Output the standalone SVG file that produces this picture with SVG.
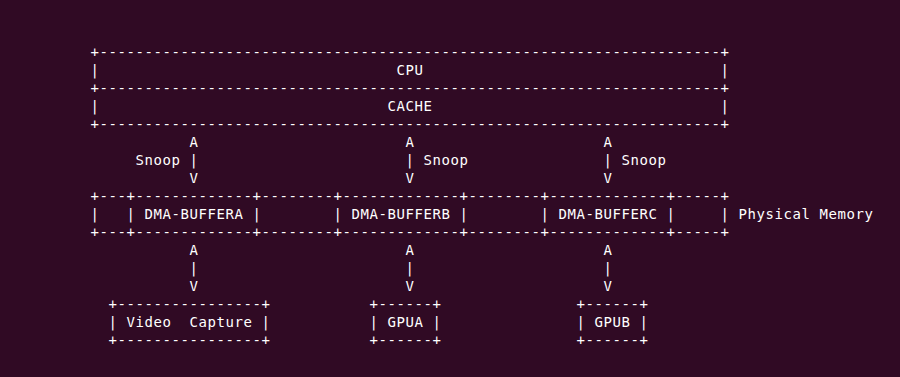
<svg xmlns="http://www.w3.org/2000/svg" width="900" height="377" viewBox="0 0 900 377">
<style>
text{font-family:"DejaVu Sans Mono","Liberation Mono",monospace;font-size:14px;letter-spacing:0.572px;fill:#ffffff;white-space:pre}
</style>
<rect width="900" height="377" fill="#300a24"/>
<g id="cpu">
<text x="90.5" y="57.3" xml:space="preserve">+---------------------------------------------------------------------+</text>
<text x="90.5" y="75.3">|</text>
<text x="396.5" y="75.3">CPU</text>
<text x="720.5" y="75.3">|</text>
<text x="90.5" y="93.3" xml:space="preserve">+---------------------------------------------------------------------+</text>
</g>
<g id="cache">
<text x="90.5" y="111.3">|</text>
<text x="387.5" y="111.3">CACHE</text>
<text x="720.5" y="111.3">|</text>
<text x="90.5" y="129.3" xml:space="preserve">+---------------------------------------------------------------------+</text>
</g>
<g id="connectors">
<text x="189.5" y="147.3">A</text>
<text x="405.5" y="147.3">A</text>
<text x="603.5" y="147.3">A</text>
<text x="135.5" y="165.3" xml:space="preserve">Snoop |</text>
<text x="405.5" y="165.3" xml:space="preserve">| Snoop</text>
<text x="603.5" y="165.3" xml:space="preserve">| Snoop</text>
<text x="189.5" y="183.3">V</text>
<text x="405.5" y="183.3">V</text>
<text x="603.5" y="183.3">V</text>
<text x="189.5" y="255.3">A</text>
<text x="405.5" y="255.3">A</text>
<text x="603.5" y="255.3">A</text>
<text x="189.5" y="273.3">|</text>
<text x="405.5" y="273.3">|</text>
<text x="603.5" y="273.3">|</text>
<text x="189.5" y="291.3">V</text>
<text x="405.5" y="291.3">V</text>
<text x="603.5" y="291.3">V</text>
</g>
<g id="physical-memory">
<text x="90.5" y="201.3" xml:space="preserve">+---+-------------+--------+-------------+--------+-------------+-----+</text>
<text x="90.5" y="219.3">|</text>
<text x="126.5" y="219.3">|</text>
<text x="252.5" y="219.3">|</text>
<text x="333.5" y="219.3">|</text>
<text x="459.5" y="219.3">|</text>
<text x="540.5" y="219.3">|</text>
<text x="666.5" y="219.3">|</text>
<text x="720.5" y="219.3">|</text>
<text x="738.5" y="219.3">Physical Memory</text>
<text x="90.5" y="237.3" xml:space="preserve">+---+-------------+--------+-------------+--------+-------------+-----+</text>
</g>
<g id="dma-buffera"><text x="144.5" y="219.3">DMA-BUFFERA</text></g>
<g id="dma-bufferb"><text x="351.5" y="219.3">DMA-BUFFERB</text></g>
<g id="dma-bufferc"><text x="558.5" y="219.3">DMA-BUFFERC</text></g>
<g id="video-capture">
<text x="108.5" y="309.3" xml:space="preserve">+----------------+</text>
<text x="108.5" y="327.3" xml:space="preserve">| Video  Capture |</text>
<text x="108.5" y="345.3" xml:space="preserve">+----------------+</text>
</g>
<g id="gpua">
<text x="369.5" y="309.3" xml:space="preserve">+------+</text>
<text x="369.5" y="327.3" xml:space="preserve">| GPUA |</text>
<text x="369.5" y="345.3" xml:space="preserve">+------+</text>
</g>
<g id="gpub">
<text x="576.5" y="309.3" xml:space="preserve">+------+</text>
<text x="576.5" y="327.3" xml:space="preserve">| GPUB |</text>
<text x="576.5" y="345.3" xml:space="preserve">+------+</text>
</g>
</svg>
